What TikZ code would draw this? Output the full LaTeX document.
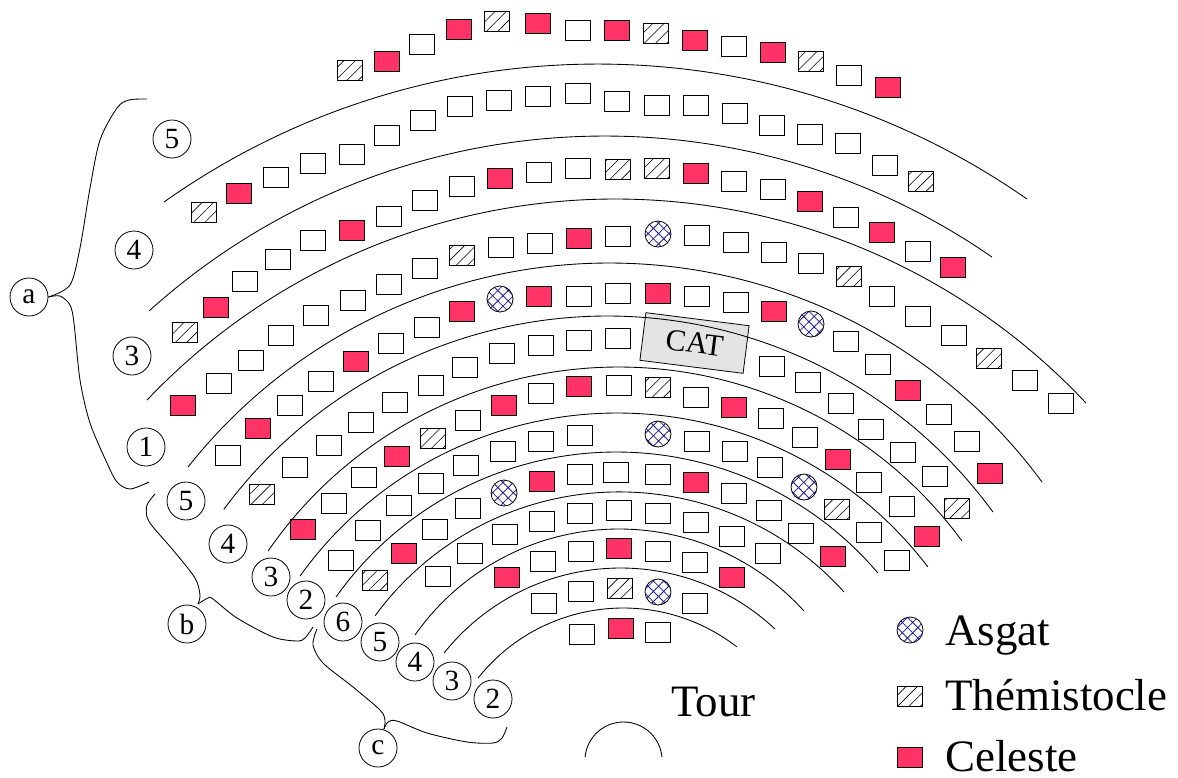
\documentclass[tikz,border=0pt]{standalone}
\usepackage{fontspec}
\setmainfont{Liberation Serif}
\usetikzlibrary{patterns.meta}
\definecolor{celestered}{RGB}{255, 51, 102}
\definecolor{catgray}{RGB}{228, 228, 228}
\definecolor{asgatblue}{RGB}{30, 30, 160}

\begin{document}
\begin{tikzpicture}[
  x=0.75pt, y=-0.75pt,
  seat/.style={rectangle, draw, line width=0.7pt, minimum width=19pt, minimum height=15pt, inner sep=0pt},
  plainseat/.style={seat},
  celeste/.style={seat, fill=celestered},
  themis/.style={seat, pattern={Lines[angle=45, distance=6pt, line width=0.45pt]}},
  asgat/.style={circle, draw, line width=0.6pt, minimum size=19.5pt, inner sep=0pt,
                pattern={Hatch[angle=45, distance=5.5pt, line width=0.6pt]}, pattern color=asgatblue},
  tag/.style={circle, draw, line width=0.6pt, minimum size=28.5pt, inner sep=0pt, font=\fontsize{22}{24}\selectfont},
  rowline/.style={line width=0.65pt},
  brace/.style={line width=0.65pt},
  legend/.style={anchor=base west, inner sep=0pt, font=\fontsize{33.7}{36}\selectfont}
]
  \useasboundingbox (0,0) rectangle (1178,778);

  \node[draw, line width=0.6pt, fill=catgray, minimum width=78pt, minimum height=36pt, inner sep=0pt,
        rotate=-7.2, font=\fontsize{23}{25}\selectfont] (cat) at (694.5,343) {CAT};

  % empty seats
  \foreach \x/\y [count=\i] in {422/44, 578/30, 734/46, 849/75,
    276/177, 313/163, 352/154, 387/135, 423/120, 460/106, 499/100, 538/96, 578/93, 617/101,
    657/105, 696/105, 735/113, 772/125, 810/134, 848/143, 885/165,
    245/281, 278/259, 313/240, 389/216, 425/200, 462/186, 539/172, 578/168,
    734/181, 773/189, 846/217, 918/251,
    219/383, 251/360, 281/335, 316/315, 353/300, 389/284, 425/268, 501/247, 540/243,
    618/236, 697/235, 736/242, 774/252, 811/263, 882/296, 918/316, 954/335, 1025/380, 1061/403,
    228/455, 290/405, 321/381, 391/343, 427/327, 579/296, 618/293, 697/296, 736/302,
    846/341, 878/364, 939/414, 967/441,
    295/467, 329/445, 361/422, 395/402, 431/385, 465/367, 502/353, 541/345, 579/340, 618/338,
    772/366, 808/382, 841/403, 871/429, 903/452, 935/476,
    334/503, 364/477, 468/420, 541/393, 619/385, 696/397, 771/418, 805/437, 869/482, 902/506,
    341/560, 368/530, 399/505, 431/483, 466/465, 503/451, 541/441, 580/435, 697/441, 735/451,
    770/467, 869/532, 897/560,
    435/529, 468/508, 580/474, 616/472, 658/474, 734/493, 769/510, 801/533,
    438/576, 470/553, 505/534, 542/521, 580/513, 619/510, 658/513, 696/522, 732/536, 768/553,
    543/561, 581/551, 658/551, 695/562,
    544/603, 581/591, 695/603,
    582/634, 658/632}
    \node[plainseat] (empty\i) at (\x,\y) {};

  % celeste seats
  \foreach \x/\y [count=\i] in {387/61, 459/29, 538/23, 617/30, 695/40, 773/52, 888/87,
    239/193, 216/307, 352/230, 500/178, 696/173, 810/201, 882/232, 953/267,
    183/405, 579/238, 258/428, 356/361, 462/311, 539/296, 658/293, 774/311, 908/390, 990/473,
    303/529, 397/456, 504/405, 579/386, 734/407, 838/459, 927/536,
    542/481, 696/482, 833/556,
    404/553, 507/577, 619/548, 732/577, 621/628}
    \node[celeste] (cel\i) at (\x,\y) {};

  % themistocle seats
  \foreach \x/\y [count=\i] in {350/70, 497/21, 656/33, 811/61,
    204/212, 921/181,
    185/332, 618/169, 657/168, 462/255, 849/276, 989/358,
    262/494, 957/508, 433/438, 658/387, 837/509, 375/580, 620/588}
    \node[themis] (them\i) at (\x,\y) {};

  % asgat seats
  \foreach \x/\y [count=\i] in {658/234, 500/299, 811/324, 658/434, 804/487, 504/493, 658/592}
    \node[asgat] (asg\i) at (\x,\y) {};

  % rows, then the tower
  \foreach \cx/\cy/\rr/\sa/\ea in {597.6/814.3/750.3/-125.3/-55.1, 604.6/816.5/680.5/-132/-55.3,
    615.1/844.5/645.5/-136.5/-43.15, 609.3/800/537/-141.7/-36.3, 607.4/793.2/477.2/-143.5/-36.1,
    618.6/792.9/425.9/-145.4/-36.3, 617.3/803.3/390.3/-144.4/-37.3, 616.3/795.4/343.4/-144.7/-40.4,
    619.2/794.4/302.5/-143.8/-42, 619.1/778.5/249.5/-144.9/-42.2, 620.6/793.9/225.9/-141.4/-46.9,
    623.2/793.5/185.5/-141.5/-52.2, 623.5/760.6/38.6/-175/-5}
    \draw[rowline] (\cx,\cy) ++(\sa:\rr) arc[start angle=\sa, end angle=\ea, radius=\rr];

  \node[tag] (a) at (29,297) {a};
  \node[tag] (b) at (187,624) {b};
  \node[tag] (c) at (378,748) {c};
  \node[tag] (up5) at (172,139) {5};
  \node[tag] (up4) at (134,250) {4};
  \node[tag] (up3) at (132,356) {3};
  \node[tag] (up1) at (146,447) {1};
  \node[tag] (mid5) at (186,501) {5};
  \node[tag] (mid4) at (228,544) {4};
  \node[tag] (mid3) at (271,577) {3};
  \node[tag] (mid2) at (306,600) {2};
  \node[tag] (low6) at (343,622) {6};
  \node[tag] (low5) at (380,642) {5};
  \node[tag] (low4) at (415,662) {4};
  \node[tag] (low3) at (452,681) {3};
  \node[tag] (low2) at (493,699) {2};

  % braces
  \coordinate (btip) at (198,604);
  \coordinate (ctip) at (384,729);
  \draw[brace] plot[smooth] coordinates {(a.east) (70,285) (80,248) (90,188) (100,140) (117,108) (129,100) (147,99)};
  \draw[brace] plot[smooth] coordinates {(a.east) (60,296) (70,305) (74,323) (80,380) (90,423) (107,463) (117,482) (130,489) (149,482)};
  \draw[brace] plot[smooth] coordinates {(btip) (200,595) (195,578) (173,550) (153,527) (147,517) (147,505) (155,494)};
  \draw[brace] plot[smooth] coordinates {(btip) (208,598) (213,599) (237,618) (273,637) (297,641) (305,638) (313,627)};
  \draw[brace] plot[smooth] coordinates {(ctip) (385,720) (380,710) (353,687) (323,663) (313,645) (317,629)};
  \draw[brace] plot[smooth] coordinates {(ctip) (388,722) (397,721) (427,733) (467,742) (493,743) (502,738) (507,727)};

  \node[legend] (tour) at (671,716) {Tour};
  \node[asgat] (keyasg) at (910,630) {};
  \node[themis] (keythem) at (910,696) {};
  \node[celeste] (keycel) at (910,757) {};
  \node[legend] (asgtext) at (945,645) {Asgat};
  \node[legend] (themtext) at (945,710) {Thémistocle};
  \node[legend] (celtext) at (945,771) {Celeste};
\end{tikzpicture}
\end{document}
